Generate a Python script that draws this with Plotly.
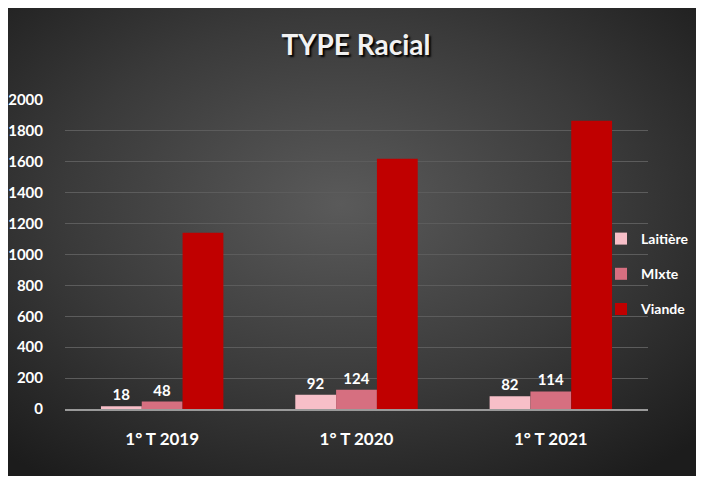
import base64
import plotly.graph_objects as go

categories = ["1° T 2019", "1° T 2020", "1° T 2021"]
laitiere = [18, 92, 82]
mixte = [48, 124, 114]
viande = [1140, 1620, 1865]
series_names = ["Laitière", "MIxte", "Viande"]
colors = ["#F7BFC8", "#D66F80", "#C00000"]
y_ticks = list(range(0, 2001, 200))

FONT = "Lato"
OFF = 8  # page body margin offset

svg = """<svg xmlns='http://www.w3.org/2000/svg' width='700' height='470' viewBox='0 0 700 470' preserveAspectRatio='none'>
<defs><radialGradient id='g' cx='48%' cy='42%' r='72%'>
<stop offset='0' stop-color='#5a5a5a'/><stop offset='0.55' stop-color='#3a3a3a'/><stop offset='1' stop-color='#1c1c1c'/>
</radialGradient></defs><rect width='700' height='470' fill='url(#g)'/></svg>"""
bg_uri = "data:image/svg+xml;base64," + base64.b64encode(svg.encode()).decode()

fig = go.Figure()
values = [laitiere, mixte, viande]
for i, (name, vals, col) in enumerate(zip(series_names, values, colors)):
    show_text = i < 2
    fig.add_trace(go.Bar(
        x=categories, y=vals, name=name, marker=dict(color=col, line=dict(width=0)),
        text=[str(v) for v in vals] if show_text else None,
        textposition="outside", cliponaxis=False,
        textfont=dict(family=FONT, size=15, color="white", weight="bold"),
        legendgroup=name,
    ))

W, H = 704, 477
# target screen geometry (window pixels), converted to figure pixels
left_s, right_s, top_s, base_s = 65, 648, 100, 409
L = left_s - OFF
R = W - (right_s - OFF)
T = top_s - OFF
B = H - (base_s - OFF)
pw, ph = W - L - R, H - T - B
def px(xs):
    return (xs - OFF - L) / pw
def py(ys):
    return (H - B - (ys - OFF)) / ph

fig.update_layout(
    width=W, height=H,
    margin=dict(l=L, r=R, t=T, b=B, autoexpand=False),
    paper_bgcolor="white", plot_bgcolor="rgba(0,0,0,0)",
    barmode="group", bargap=0.37, bargroupgap=0,
    font=dict(family=FONT, color="white"),
    title=dict(text="TYPE Racial", x=(356 - OFF) / W, xanchor="center",
               y=1 - (45 - OFF) / H, yanchor="middle",
               font=dict(family=FONT, size=28, color="#f2f2f2", weight="bold",
                         shadow="2px 2px 2px #000000")),
    legend=dict(x=px(601), xanchor="left", y=py(274), yanchor="middle",
                bgcolor="rgba(0,0,0,0)", tracegroupgap=14, itemwidth=30,
                font=dict(family=FONT, size=14, color="white", weight="bold")),
    images=[dict(source=bg_uri, xref="paper", yref="paper",
                 x=px(7), y=py(7), sizex=px(702) - px(7), sizey=py(7) - py(476),
                 xanchor="left", yanchor="top", sizing="stretch", layer="below")],
    showlegend=True,
)
fig.update_xaxes(showgrid=False, showline=True, linecolor="#9a9a9a", linewidth=1.5,
                 automargin=False,
                 ticks="outside", ticklen=14, tickcolor="rgba(0,0,0,0)",
                 tickfont=dict(family=FONT, size=17, color="white", weight="bold"))
fig.update_yaxes(range=[0, 2000], tickvals=y_ticks, showgrid=True, gridcolor="#5c5c5c", gridwidth=1,
                 zeroline=False, showline=False, automargin=False,
                 ticks="outside", ticklen=18, tickcolor="rgba(0,0,0,0)",
                 tickfont=dict(family=FONT, size=15, color="white", weight="bold"))

fig.write_html("out.html")
